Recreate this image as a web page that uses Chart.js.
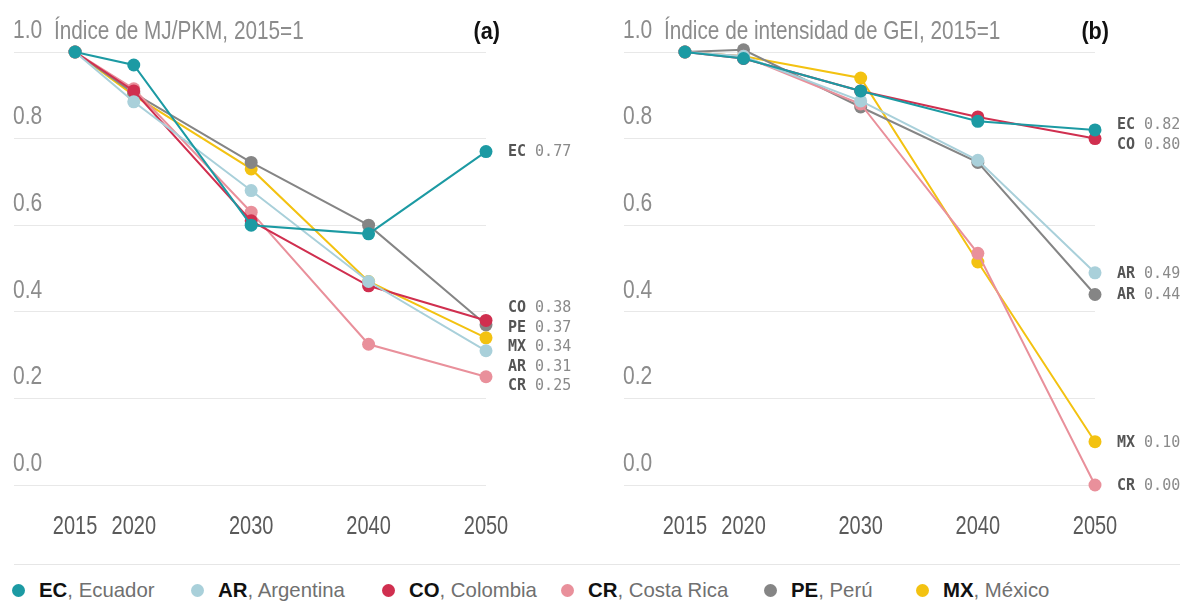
<!DOCTYPE html>
<html><head><meta charset="utf-8">
<script src="https://cdn.jsdelivr.net/npm/chart.js@4.4.1/dist/chart.umd.min.js"></script>
<style>
html,body{margin:0;padding:0;background:#fff;width:1192px;height:602px;overflow:hidden}
#wrap{position:relative;width:1192px;height:602px}
#ca{position:absolute;left:0;top:0}
#cb{position:absolute;left:600px;top:0}
#sep{position:absolute;left:14px;width:1166px;top:564px;height:0;border-top:1px solid #e6e6e6}
.item{position:absolute;top:572px;height:36px;display:flex;align-items:center;font-family:'Liberation Sans',Arial,sans-serif;font-size:21px;color:#707070;white-space:nowrap}
.dot{width:13px;height:13px;border-radius:50%;margin-right:14px;flex:none}
.txt{display:inline-block;transform:scaleX(0.97);transform-origin:left center}
.txt b{color:#111}
</style></head>
<body>
<div id="wrap">
<canvas id="ca" width="600" height="560"></canvas>
<canvas id="cb" width="592" height="560"></canvas>
<div id="sep"></div>
<div id="legend"></div>
</div>
<script>
// ---- data ----
const years = [2015, 2020, 2030, 2040, 2050];
const codes = ['EC', 'AR', 'CO', 'CR', 'PE', 'MX'];
const names = ['Ecuador', 'Argentina', 'Colombia', 'Costa Rica', 'Perú', 'México'];
const colors = ['#1c9aa3', '#a9d0da', '#d02f4f', '#e9909b', '#858585', '#f3c211'];

// Panel (a): Índice de MJ/PKM, 2015=1
const mjEC = [1.00, 0.97, 0.60, 0.58, 0.77];
const mjAR = [1.00, 0.885, 0.68, 0.47, 0.31];
const mjCO = [1.00, 0.91, 0.61, 0.46, 0.38];
const mjCR = [1.00, 0.915, 0.63, 0.325, 0.25];
const mjPE = [1.00, 0.905, 0.745, 0.60, 0.37];
const mjMX = [1.00, 0.90, 0.73, 0.47, 0.34];

// Panel (b): Índice de intensidad de GEI, 2015=1
const geiEC = [1.00, 0.985, 0.91, 0.84, 0.82];
const geiAR = [1.00, 0.99, 0.887, 0.75, 0.49];
const geiCO = [1.00, 0.985, 0.91, 0.85, 0.80];
const geiCR = [1.00, 0.99, 0.88, 0.535, 0.00];
const geiPE = [1.00, 1.005, 0.873, 0.745, 0.44];
const geiMX = [1.00, 0.99, 0.94, 0.515, 0.10];

// end-of-line label codes as printed in the original
const endCodesA = ['EC', 'AR', 'CO', 'CR', 'PE', 'MX'];
const endCodesB = ['EC', 'AR', 'CO', 'CR', 'AR', 'MX'];

const yTicks = [0.0, 0.2, 0.4, 0.6, 0.8, 1.0];
const xTicks = [2015, 2020, 2030, 2040, 2050];

const titleA = 'Índice de MJ/PKM, 2015=1';
const titleB = 'Índice de intensidad de GEI, 2015=1';

// ---- drawing ----
const SANS = "'Liberation Sans',Arial,sans-serif";
const MONO = "'DejaVu Sans Mono','Liberation Mono',monospace";

function narrowText(ctx, text, x, y, font, color, align, sx) {
  ctx.save();
  ctx.font = font;
  ctx.fillStyle = color;
  ctx.textBaseline = 'middle';
  ctx.textAlign = 'left';
  const w = ctx.measureText(text).width * sx;
  const lx = align === 'right' ? x - w : align === 'center' ? x - w / 2 : x;
  ctx.translate(lx, y);
  ctx.scale(sx, 1);
  ctx.fillText(text, 0, 0);
  ctx.restore();
}

const endLabels = {
  id: 'endLabels',
  afterDatasetsDraw(chart, args, opts) {
    const ctx = chart.ctx, ys = chart.scales.y, xs = chart.scales.x;
    const gap = 19.5;
    const items = chart.data.datasets.map((ds, i) => {
      const last = ds.data[ds.data.length - 1];
      return { code: opts.codes[i], val: last.y, t: ys.getPixelForValue(last.y) };
    }).sort((a, b) => a.t - b.t);
    let groups = items.map(it => ({ items: [it] }));
    const center = g => g.items.reduce((s, it) => s + it.t, 0) / g.items.length;
    let changed = true;
    while (changed) {
      changed = false;
      for (let i = 0; i < groups.length - 1; i++) {
        const a = groups[i], b = groups[i + 1];
        const aBot = center(a) + (a.items.length - 1) * gap / 2;
        const bTop = center(b) - (b.items.length - 1) * gap / 2;
        if (bTop - aBot < gap) {
          groups.splice(i, 2, { items: a.items.concat(b.items) });
          changed = true; break;
        }
      }
    }
    const x0 = xs.getPixelForValue(2050) + 22;
    ctx.save();
    ctx.textBaseline = 'middle';
    ctx.textAlign = 'left';
    groups.forEach(g => {
      const c = center(g);
      const shift = g.items.length > 2 ? 5 : 1;
      g.items.forEach((it, k) => {
        const y = c - (g.items.length - 1) * gap / 2 + k * gap + shift;
        ctx.font = 'bold 15px ' + MONO;
        ctx.fillStyle = '#555555';
        ctx.fillText(it.code, x0, y);
        const w = ctx.measureText(it.code + ' ').width;
        ctx.font = '15px ' + MONO;
        ctx.fillStyle = '#8a8a8a';
        ctx.fillText(it.val.toFixed(2), x0 + w, y);
      });
    });
    ctx.restore();
  }
};

const axisText = {
  id: 'axisText',
  afterDraw(chart, args, opts) {
    const ctx = chart.ctx, ca = chart.chartArea, xs = chart.scales.x, ys = chart.scales.y;
    ys.ticks.forEach(t => {
      narrowText(ctx, Number(t.value).toFixed(1), ca.left - 1, ys.getPixelForValue(t.value) - 21,
        '25px ' + SANS, '#8c8c8c', 'left', 0.84);
    });
    xs.ticks.forEach(t => {
      narrowText(ctx, String(t.value), xs.getPixelForValue(t.value), ca.bottom + 42,
        '25px ' + SANS, '#5a5a5a', 'center', 0.8);
    });
    narrowText(ctx, opts.title, ca.left + 40, 32, '25px ' + SANS, '#8c8c8c', 'left', 0.83);
    narrowText(ctx, opts.tag, ca.right + 14, 32, 'bold 24px ' + SANS, '#111', 'right', 0.9);
  }
};

function makePanel(id, series, endCodes, title, tag, pad) {
  const datasets = series.map((vals, i) => ({
    label: codes[i],
    data: years.map((yr, j) => ({ x: yr, y: vals[j] })),
    borderColor: colors[i],
    backgroundColor: colors[i],
    pointBackgroundColor: colors[i],
    pointBorderColor: colors[i],
    borderWidth: 2,
    pointRadius: 6.5,
    pointBorderWidth: 0,
    pointHoverRadius: 6.5,
    tension: 0,
    clip: false
  }));
  return new Chart(document.getElementById(id), {
    type: 'line',
    data: { datasets },
    plugins: [endLabels, axisText],
    options: {
      responsive: false,
      animation: false,
      devicePixelRatio: 1,
      layout: { padding: pad },
      plugins: {
        legend: { display: false },
        tooltip: { enabled: false },
        endLabels: { codes: endCodes },
        axisText: { title, tag }
      },
      scales: {
        x: {
          type: 'linear', min: 2009.8, max: 2050,
          grid: { display: false, drawTicks: false, tickLength: 0 },
          border: { display: false },
          afterBuildTicks: s => { s.ticks = xTicks.map(v => ({ value: v })); },
          afterFit: s => { s.height = 60; },
          ticks: { display: false }
        },
        y: {
          min: 0, max: 1,
          grid: { color: '#e8e8e8', lineWidth: 1, drawTicks: false, tickLength: 0 },
          border: { display: false },
          afterBuildTicks: s => { s.ticks = yTicks.map(v => ({ value: v })); },
          afterFit: s => { s.width = 0; },
          ticks: { display: false }
        }
      }
    }
  });
}

makePanel('ca', [mjEC, mjAR, mjCO, mjCR, mjPE, mjMX], endCodesA, titleA, '(a)', { left: 14, right: 114, top: 52, bottom: 15 });
makePanel('cb', [geiEC, geiAR, geiCO, geiCR, geiPE, geiMX], endCodesB, titleB, '(b)', { left: 24, right: 97, top: 52, bottom: 15 });

// legend
const legendDotX = [18, 197, 388, 567, 770, 922];
const lg = document.getElementById('legend');
codes.forEach((c, i) => {
  const d = document.createElement('div');
  d.className = 'item';
  d.style.left = (legendDotX[i] - 6.5) + 'px';
  d.innerHTML = '<span class="dot" style="background:' + colors[i] + '"></span><span class="txt"><b>' + c + '</b>, ' + names[i] + '</span>';
  lg.appendChild(d);
});
</script>
</body></html>
